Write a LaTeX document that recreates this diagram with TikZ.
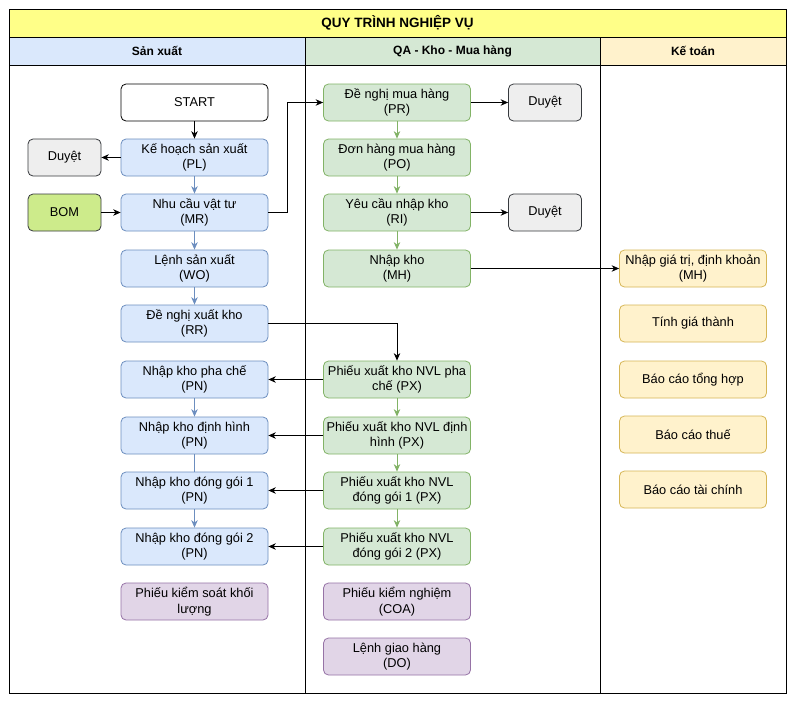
\documentclass[tikz,border=0pt]{standalone}
\usepackage{fontspec}
\setmainfont{Liberation Sans}
\usetikzlibrary{arrows.meta}
\definecolor{bluefill}{HTML}{DAE8FC}
\definecolor{bluestroke}{HTML}{6C8EBF}
\definecolor{greenfill}{HTML}{D5E8D4}
\definecolor{greenstroke}{HTML}{82B366}
\definecolor{yellowfill}{HTML}{FFF2CC}
\definecolor{yellowstroke}{HTML}{D6B656}
\definecolor{purplefill}{HTML}{E1D5E7}
\definecolor{purplestroke}{HTML}{9673A6}
\definecolor{grayfill}{HTML}{EEEEEE}
\definecolor{graystroke}{HTML}{36393D}
\definecolor{bomfill}{HTML}{CDEB8B}
\definecolor{titlefill}{HTML}{FFFF88}
\tikzset{
  box/.style={draw, rounded corners=5pt, minimum width=147pt, minimum height=37pt,
    align=center, inner sep=1pt, font=\fontsize{12.8}{15.5}\selectfont, line width=0.8pt},
  bluebox/.style={box, fill=bluefill, draw=bluestroke},
  greenbox/.style={box, fill=greenfill, draw=greenstroke},
  yellowbox/.style={box, fill=yellowfill, draw=yellowstroke},
  purplebox/.style={box, fill=purplefill, draw=purplestroke},
  graybox/.style={box, fill=grayfill, draw=graystroke, minimum width=73pt},
  bombox/.style={box, fill=bomfill, draw=graystroke, minimum width=73pt},
  startbox/.style={box, fill=white, draw=black},
  arr/.style={-{Stealth[length=7.5pt,width=6.5pt]}, line width=0.8pt},
  blackarr/.style={arr, draw=black},
  bluearr/.style={arr, draw=bluestroke},
  greenarr/.style={arr, draw=greenstroke},
  frame/.style={draw=black, line width=0.8pt},
  headtext/.style={font=\bfseries\fontsize{12}{14}\selectfont},
  titletext/.style={font=\bfseries\fontsize{13.5}{16}\selectfont}
}
\begin{document}
\begin{tikzpicture}[x=1pt,y=-1pt]
\useasboundingbox (0,0) rectangle (796,704);
% swimlane frame
\fill[white] (0,0) rectangle (796,704);
\filldraw[frame, fill=titlefill] (9,9) rectangle (786,37);
\filldraw[frame, fill=bluefill] (9,37) rectangle (305,65);
\filldraw[frame, fill=greenfill] (305,37) rectangle (600,65);
\filldraw[frame, fill=yellowfill] (600,37) rectangle (786,65);
\draw[frame] (9,65) rectangle (786,693);
\draw[frame] (305,65) -- (305,693);
\draw[frame] (600,65) -- (600,693);
\node[titletext] (title) at (397.5,23) {QUY TRÌNH NGHIỆP VỤ};
\node[headtext] (laneA) at (157,51) {Sản xuất};
\node[headtext] (laneB) at (452.5,51) {QA - Kho - Mua hàng};
\node[headtext] (laneC) at (693,51) {Kế toán};

% production lane
\node[startbox] (start) at (194.5,102.5) {START};
\node[bluebox] (pl) at (194.5,157.5) {Kế hoạch sản xuất\\(PL)};
\node[bluebox] (mr) at (194.5,212.5) {Nhu cầu vật tư\\(MR)};
\node[bluebox] (wo) at (194.5,268.5) {Lệnh sản xuất\\(WO)};
\node[bluebox] (rr) at (194.5,323.5) {Đề nghị xuất kho\\(RR)};
\node[bluebox] (pn1) at (194.5,379.5) {Nhập kho pha chế\\(PN)};
\node[bluebox] (pn2) at (194.5,435.5) {Nhập kho định hình\\(PN)};
\node[bluebox] (pn3) at (194.5,490.5) {Nhập kho đóng gói 1\\(PN)};
\node[bluebox] (pn4) at (194.5,546.5) {Nhập kho đóng gói 2\\(PN)};
\node[purplebox] (pks) at (194.5,601.5) {Phiếu kiểm soát khối\\lượng};
\node[graybox] (duyetL) at (64.5,157.5) {Duyệt};
\node[bombox] (bom) at (64.5,212.5) {BOM};

% QA / warehouse / purchasing lane
\node[greenbox] (pr) at (397,102.5) {Đề nghị mua hàng\\(PR)};
\node[greenbox] (po) at (397,157.5) {Đơn hàng mua hàng\\(PO)};
\node[greenbox] (ri) at (397,212.5) {Yêu cầu nhập kho\\(RI)};
\node[greenbox] (mh) at (397,268.5) {Nhập kho\\(MH)};
\node[greenbox] (px1) at (397,379.5) {Phiếu xuất kho NVL pha\\chế (PX)};
\node[greenbox] (px2) at (397,435.5) {Phiếu xuất kho NVL định\\hình (PX)};
\node[greenbox] (px3) at (397,490.5) {Phiếu xuất kho NVL\\đóng gói 1 (PX)};
\node[greenbox] (px4) at (397,546.5) {Phiếu xuất kho NVL\\đóng gói 2 (PX)};
\node[purplebox] (coa) at (397,601.5) {Phiếu kiểm nghiệm\\(COA)};
\node[purplebox] (do) at (397,656.5) {Lệnh giao hàng\\(DO)};
\node[graybox] (duyetR1) at (545,102.5) {Duyệt};
\node[graybox] (duyetR2) at (545,212.5) {Duyệt};

% accounting lane
\node[yellowbox] (ngt) at (693,268.5) {Nhập giá trị, định khoản\\(MH)};
\node[yellowbox] (tgt) at (693,323.5) {Tính giá thành};
\node[yellowbox] (bcth) at (693,379.5) {Báo cáo tổng hợp};
\node[yellowbox] (bct) at (693,434.5) {Báo cáo thuế};
\node[yellowbox] (bctc) at (693,489.5) {Báo cáo tài chính};

% connectors
\draw[blackarr] (start) -- (pl);
\draw[blackarr] (pl) -- (duyetL);
\draw[blackarr] (bom) -- (mr);
\draw[bluearr] (pl) -- (mr);
\draw[bluearr] (mr) -- (wo);
\draw[bluearr] (wo) -- (rr);
\draw[bluearr] (pn1) -- (pn2);
\draw[line width=0.8pt, draw=bluestroke] (pn2) -- (pn3);
\draw[bluearr] (pn3) -- (pn4);
\draw[blackarr] (mr.east) -- ++(19,0) |- (pr.west);
\draw[blackarr] (pr) -- (duyetR1);
\draw[blackarr] (ri) -- (duyetR2);
\draw[greenarr] (pr) -- (po);
\draw[greenarr] (po) -- (ri);
\draw[greenarr] (ri) -- (mh);
\draw[greenarr] (px1) -- (px2);
\draw[greenarr] (px2) -- (px3);
\draw[greenarr] (px3) -- (px4);
\draw[blackarr] (mh) -- (ngt);
\draw[blackarr] (rr.east) -| (px1.north);
\draw[blackarr] (px1) -- (pn1);
\draw[blackarr] (px2) -- (pn2);
\draw[blackarr] (px3) -- (pn3);
\draw[blackarr] (px4) -- (pn4);
\end{tikzpicture}
\end{document}
